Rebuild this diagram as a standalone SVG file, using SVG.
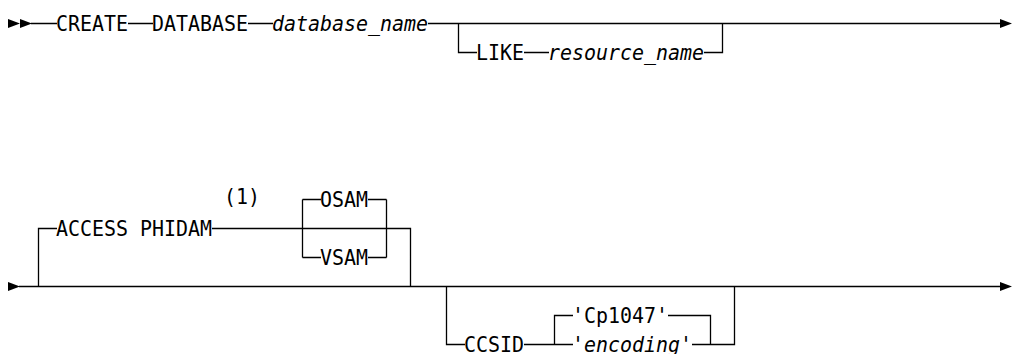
<svg xmlns="http://www.w3.org/2000/svg" width="1013" height="354" viewBox="0 0 1013 354">
<style>
.t{font-family:"DejaVu Sans Mono","Liberation Mono",monospace;font-size:22px;fill:#000}
.i{font-style:italic}
.c{fill:none;stroke:#000;stroke-width:1.3}
.a{fill:#000}
</style>
<rect width="1013" height="354" fill="#fff"/>
<g id="connectors">
<path class="c" d="M31,23.5H57 M128,23.5H153 M248,23.5H273 M428,23.5H1001 M458.5,23.5V52.5H477 M524,52.5H549 M704,52.5H722.5V23.5"/>
<path class="c" d="M19,286.5H1001 M38.5,286.5V228.5H57 M212,228.5H410.5V286.5 M302.5,199.5V257.5 M386.5,199.5V257.5 M302.5,199.5H321 M368,199.5H386.5 M302.5,257.5H321 M368,257.5H386.5"/>
<path class="c" d="M446.5,286.5V344.5H465 M524,344.5H573 M554.5,344.5V315.5H573 M668,315.5H710.5V344.5 M692,344.5H734.5V286.5"/>
<polygon class="a" points="8,19 20,23.5 8,28"/>
<polygon class="a" points="20,19 32,23.5 20,28"/>
<polygon class="a" points="1000,19 1012,23.5 1000,28"/>
<polygon class="a" points="8,282 20,286.5 8,291"/>
<polygon class="a" points="1000,282 1012,286.5 1000,291"/>
</g>
<g id="create"><text class="t" x="56" y="30.5" textLength="72" lengthAdjust="spacingAndGlyphs">CREATE</text></g>
<g id="database"><text class="t" x="152" y="30.5" textLength="96" lengthAdjust="spacingAndGlyphs">DATABASE</text></g>
<g id="database_name"><text class="t i" x="272" y="30.5" textLength="156" lengthAdjust="spacingAndGlyphs">database_name</text></g>
<g id="like"><text class="t" x="476" y="59.5" textLength="48" lengthAdjust="spacingAndGlyphs">LIKE</text></g>
<g id="resource_name"><text class="t i" x="548" y="59.5" textLength="156" lengthAdjust="spacingAndGlyphs">resource_name</text></g>
<g id="access"><text class="t" x="56" y="235.5" textLength="156" lengthAdjust="spacingAndGlyphs">ACCESS PHIDAM</text></g>
<g id="note"><text class="t" x="224" y="204" textLength="36" lengthAdjust="spacingAndGlyphs">(1)</text></g>
<g id="osam"><text class="t" x="320" y="206.5" textLength="48" lengthAdjust="spacingAndGlyphs">OSAM</text></g>
<g id="vsam"><text class="t" x="320" y="264.5" textLength="48" lengthAdjust="spacingAndGlyphs">VSAM</text></g>
<g id="ccsid"><text class="t" x="464" y="351.5" textLength="60" lengthAdjust="spacingAndGlyphs">CCSID</text></g>
<g id="cp1047"><text class="t" x="572" y="322.5" textLength="96" lengthAdjust="spacingAndGlyphs">'Cp1047'</text></g>
<g id="encoding"><text class="t i" x="572" y="351.5" textLength="120" lengthAdjust="spacingAndGlyphs">'encoding'</text></g>
</svg>
